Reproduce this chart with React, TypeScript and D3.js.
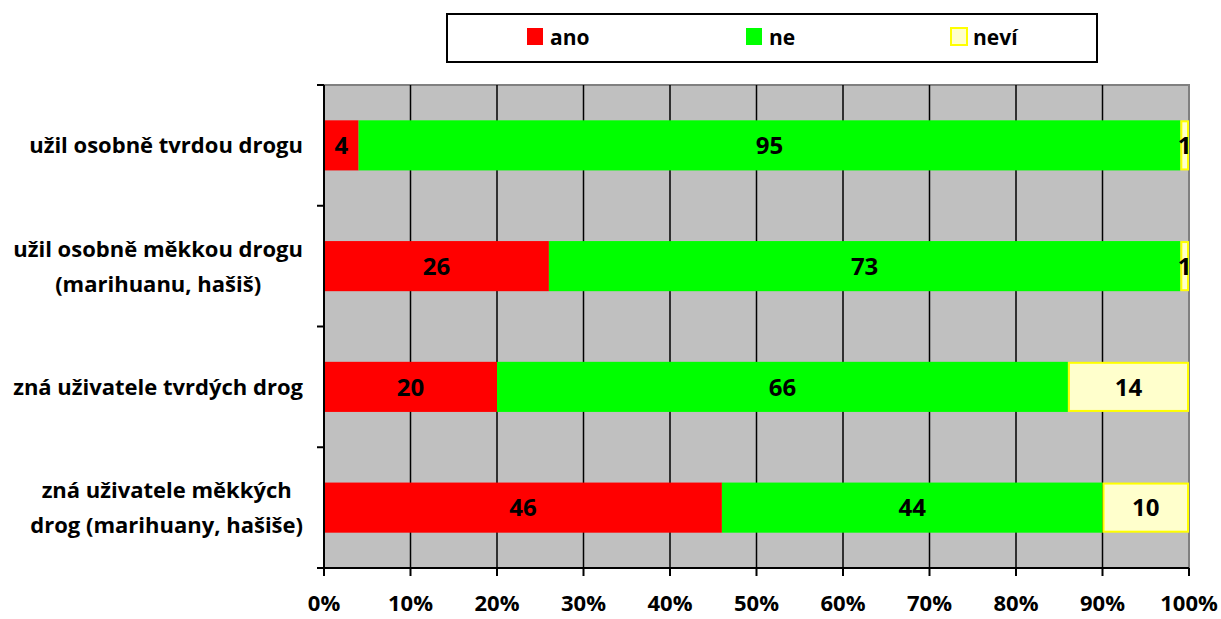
import React, { useEffect, useRef } from 'react'
import * as d3 from 'd3'

const categories = [
  ['užil osobně tvrdou drogu'],
  ['užil osobně měkkou drogu', '(marihuanu, hašiš)'],
  ['zná uživatele tvrdých drog'],
  ['zná uživatele měkkých', 'drog (marihuany, hašiše)'],
]
const ano = [4, 26, 20, 46]
const ne = [95, 73, 66, 44]
const nevi = [1, 1, 14, 10]
const seriesNames = ['ano', 'ne', 'neví']
const xTicks = [0, 10, 20, 30, 40, 50, 60, 70, 80, 90, 100]

const FONT = '"Open Sans", "DejaVu Sans", sans-serif'

const App = () => {
  const ref = useRef<SVGSVGElement>(null)

  useEffect(() => {
    draw()
  }, [])

  const draw = () => {
    const W = 1221
    const H = 619
    const left = 324
    const right = 1189
    const top = 85
    const bottom = 568

    const svg = d3.select(ref.current)
    svg.selectAll('*').remove()
    svg.attr('width', W).attr('height', H)

    const x = d3.scaleLinear().domain([0, 100]).range([left, right])
    const y = d3
      .scaleBand<number>()
      .domain(d3.range(categories.length))
      .range([top, bottom])
      .paddingInner(0.585)
      .paddingOuter(0.2925)
    const band = d3.scaleBand<number>().domain(d3.range(categories.length)).range([top, bottom])

    // plot area
    svg
      .append('rect')
      .attr('x', left)
      .attr('y', top)
      .attr('width', right - left)
      .attr('height', bottom - top)
      .attr('fill', '#c0c0c0')
    svg
      .append('path')
      .attr('d', `M${left},${top}H${right}V${bottom}`)
      .attr('fill', 'none')
      .attr('stroke', '#808080')
      .attr('stroke-width', 2)

    // grid lines
    svg
      .append('g')
      .selectAll('line')
      .data(xTicks.slice(1, -1))
      .join('line')
      .attr('x1', (d) => x(d))
      .attr('x2', (d) => x(d))
      .attr('y1', top)
      .attr('y2', bottom)
      .attr('stroke', '#000')
      .attr('stroke-width', 1.5)

    // stacked bars
    const colors = ['#ff0000', '#00ff00', '#ffffcc']
    const rows = categories.map((c, i) => ({ i, ano: ano[i], ne: ne[i], nevi: nevi[i] }))
    const stack = d3.stack<any>().keys(['ano', 'ne', 'nevi'])(rows)

    stack.forEach((layer, k) => {
      const g = svg.append('g')
      g.selectAll('rect')
        .data(layer)
        .join('rect')
        .attr('x', (d) => x(d[0]) + (k === 2 ? 1 : 0))
        .attr('y', (d, i) => (y(i) as number) + (k === 2 ? 1 : 0))
        .attr('width', (d) => x(d[1]) - x(d[0]) - (k === 2 ? 2 : 0))
        .attr('height', y.bandwidth() - (k === 2 ? 2 : 0))
        .attr('fill', colors[k])
        .attr('stroke', k === 2 ? '#ffff00' : 'none')
        .attr('stroke-width', 2)
      g.selectAll('text')
        .data(layer)
        .join('text')
        .attr('x', (d) => (x(d[0]) + x(d[1])) / 2)
        .attr('y', (d, i) => (y(i) as number) + y.bandwidth() / 2)
        .attr('dy', '0.36em')
        .attr('text-anchor', 'middle')
        .attr('font-family', FONT)
        .attr('font-weight', 'bold')
        .attr('font-size', 24)
        .attr('fill', '#000')
        .text((d) => d[1] - d[0])
    })

    // y axis
    svg
      .append('line')
      .attr('x1', left)
      .attr('x2', left)
      .attr('y1', top)
      .attr('y2', bottom)
      .attr('stroke', '#000')
      .attr('stroke-width', 2)
    const yTicks = d3.range(categories.length + 1).map((i) => (i < categories.length ? (band(i) as number) : bottom))
    svg
      .append('g')
      .selectAll('line')
      .data(yTicks)
      .join('line')
      .attr('x1', left - 7)
      .attr('x2', left)
      .attr('y1', (d) => d)
      .attr('y2', (d) => d)
      .attr('stroke', '#000')
      .attr('stroke-width', 2)

    // x axis
    svg
      .append('line')
      .attr('x1', left - 7)
      .attr('x2', right)
      .attr('y1', bottom)
      .attr('y2', bottom)
      .attr('stroke', '#000')
      .attr('stroke-width', 2)
    svg
      .append('g')
      .selectAll('line')
      .data(xTicks)
      .join('line')
      .attr('x1', (d) => x(d))
      .attr('x2', (d) => x(d))
      .attr('y1', bottom)
      .attr('y2', bottom + 8)
      .attr('stroke', '#000')
      .attr('stroke-width', 2)
    svg
      .append('g')
      .selectAll('text')
      .data(xTicks)
      .join('text')
      .attr('x', (d) => x(d))
      .attr('y', 603)
      .attr('dy', '0.36em')
      .attr('text-anchor', 'middle')
      .attr('font-family', FONT)
      .attr('font-weight', 'bold')
      .attr('font-size', 22)
      .text((d) => `${d}%`)

    // category labels
    const labelRight = 303
    categories.forEach((lines, i) => {
      const cy = (band(i) as number) + band.bandwidth() / 2
      const g = svg.append('g')
      const texts = lines.map((l, j) =>
        g
          .append('text')
          .attr('y', cy + (j - (lines.length - 1) / 2) * 35)
          .attr('dy', '0.36em')
          .attr('font-family', FONT)
          .attr('font-weight', 'bold')
          .attr('font-size', 22)
          .attr('text-anchor', 'middle')
          .text(l)
      )
      const maxW = d3.max(texts, (t) => (t.node() as SVGTextElement).getComputedTextLength()) || 0
      texts.forEach((t) => t.attr('x', labelRight - maxW / 2))
    })

    // legend
    svg
      .append('rect')
      .attr('x', 447)
      .attr('y', 14)
      .attr('width', 650)
      .attr('height', 48)
      .attr('fill', '#fff')
      .attr('stroke', '#000')
      .attr('stroke-width', 2)
    const legendX = [527, 746, 950]
    seriesNames.forEach((name, k) => {
      svg
        .append('rect')
        .attr('x', legendX[k] + (k === 2 ? 1 : 0))
        .attr('y', 28)
        .attr('width', 16)
        .attr('height', 17)
        .attr('fill', colors[k])
        .attr('stroke', k === 2 ? '#ffff00' : 'none')
        .attr('stroke-width', 2)
      svg
        .append('text')
        .attr('x', legendX[k] + 23)
        .attr('y', 37)
        .attr('dy', '0.36em')
        .attr('font-family', FONT)
        .attr('font-weight', 'bold')
        .attr('font-size', 21)
        .text(name)
    })
  }

  return (
    <svg ref={ref} style={{ position: 'absolute', left: 0, top: 0, background: '#fff' }} />
  )
}

export default App
